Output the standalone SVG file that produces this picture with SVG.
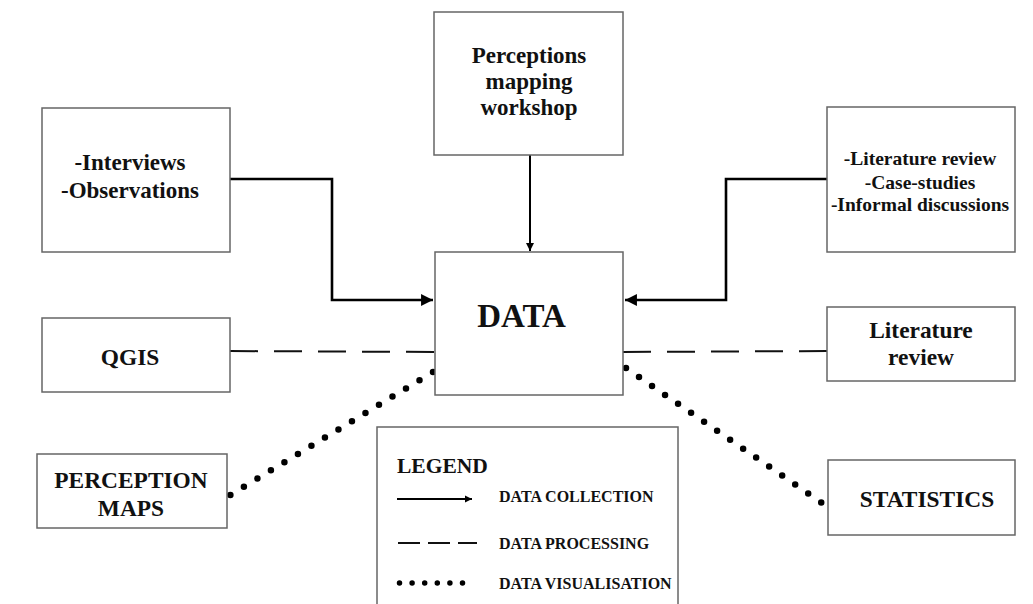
<svg xmlns="http://www.w3.org/2000/svg" width="1033" height="604" viewBox="0 0 1033 604">
<style>
.box{fill:#fff;stroke:#666;stroke-width:1.5}
text{font-family:"Liberation Serif","Times New Roman",serif;font-weight:bold;fill:#111}
.c{text-anchor:middle}
.solid{fill:none;stroke:#000;stroke-width:2.6}
.dash{fill:none;stroke:#111;stroke-width:2;stroke-dasharray:28 16}
.dot{fill:none;stroke:#000;stroke-width:6.5;stroke-linecap:round;stroke-dasharray:0 15.8}
</style>
<defs>
<marker id="ah" viewBox="0 0 10 10" refX="10" refY="5" markerWidth="4.6" markerHeight="4.6" markerUnits="strokeWidth" orient="auto">
<path d="M0,0 L10,5 L0,10 z" fill="#000"/>
</marker>
<marker id="ahs" viewBox="0 0 10 10" refX="10" refY="5" markerWidth="4" markerHeight="4" markerUnits="strokeWidth" orient="auto">
<path d="M0,0 L10,5 L0,10 z" fill="#000"/>
</marker>
</defs>
<rect width="1033" height="604" fill="#fff"/>
<g id="connectors">
<path class="solid" d="M230,179 H332 V300 H433" marker-end="url(#ah)"/>
<path class="solid" d="M827,179 H726 V300 H625" marker-end="url(#ah)"/>
<path class="solid" style="stroke-width:2" d="M530,155 V251" marker-end="url(#ahs)"/>
<path class="dash" d="M230,351 L435,352"/>
<path class="dash" d="M623,352 L827,351"/>
<path class="dot" d="M433,372 L227,497"/>
<path class="dot" d="M626,368 L825,505"/>
</g>
<g id="node-perceptions">
<rect class="box" x="434" y="12" width="189" height="143"/>
<text class="c" x="529" y="63" font-size="23">Perceptions</text>
<text class="c" x="529" y="89" font-size="23">mapping</text>
<text class="c" x="529" y="115" font-size="23">workshop</text>
</g>
<g id="node-interviews">
<rect class="box" x="42" y="108" width="188" height="144"/>
<text class="c" x="130" y="170" font-size="23">-Interviews</text>
<text class="c" x="130" y="198" font-size="23">-Observations</text>
</g>
<g id="node-literature-sources">
<rect class="box" x="827" y="107" width="188" height="145"/>
<text class="c" x="920" y="165" font-size="19.5">-Literature review</text>
<text class="c" x="920" y="189" font-size="19.5">-Case-studies</text>
<text class="c" x="920" y="211" font-size="19.5">-Informal discussions</text>
</g>
<g id="node-data">
<rect class="box" x="435" y="252" width="188" height="143"/>
<text class="c" x="521.5" y="327" font-size="33">DATA</text>
</g>
<g id="node-qgis">
<rect class="box" x="42" y="318" width="188" height="74"/>
<text class="c" x="130" y="365" font-size="23.4">QGIS</text>
</g>
<g id="node-literature-review">
<rect class="box" x="827" y="307" width="188" height="74"/>
<text class="c" x="921" y="338" font-size="23.4">Literature</text>
<text class="c" x="921" y="365" font-size="23.4">review</text>
</g>
<g id="node-perception-maps">
<rect class="box" x="37" y="454" width="190" height="74"/>
<text class="c" x="131" y="488" font-size="23.4">PERCEPTION</text>
<text class="c" x="131" y="516" font-size="23.4">MAPS</text>
</g>
<g id="node-statistics">
<rect class="box" x="828" y="460" width="187" height="75"/>
<text class="c" x="927" y="507" font-size="23.4">STATISTICS</text>
</g>
<g id="legend">
<rect class="box" x="377" y="427" width="301" height="190"/>
<text x="397" y="473" font-size="21.5">LEGEND</text>
<path class="solid" style="stroke-width:1.8" d="M397,499 H472" marker-end="url(#ahs)"/>
<text x="499" y="502" font-size="16">DATA COLLECTION</text>
<path fill="none" stroke="#111" stroke-width="1.8" stroke-dasharray="22 8" d="M398,543 H477"/>
<text x="499" y="549" font-size="16">DATA PROCESSING</text>
<path fill="none" stroke="#000" stroke-width="5.5" stroke-linecap="round" stroke-dasharray="0 12.6" d="M399.5,583 H475"/>
<text x="499" y="589" font-size="16">DATA VISUALISATION</text>
</g>
</svg>
